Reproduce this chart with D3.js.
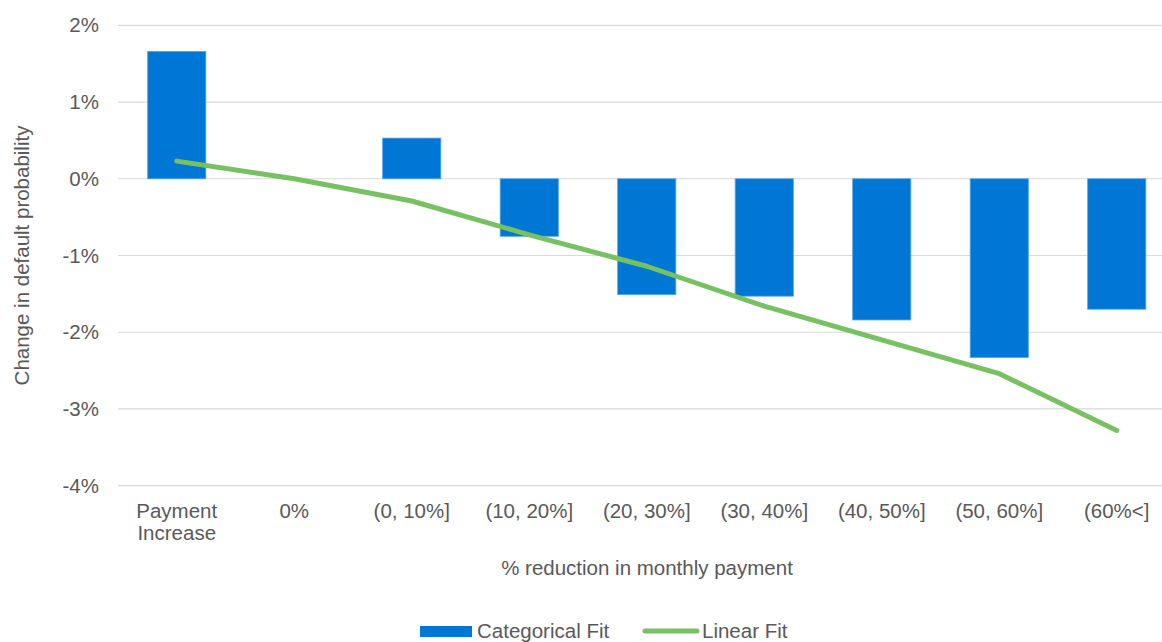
<!DOCTYPE html>
<html><head><meta charset="utf-8">
<script src="https://cdn.jsdelivr.net/npm/d3@7"></script>
<style>body{margin:0;background:#fff;}svg{display:block;font-family:"Liberation Sans",Arial,sans-serif;}</style>
</head><body>
<svg id="c" width="1162" height="642"></svg>
<script>
const categories = ["Payment\nIncrease","0%","(0, 10%]","(10, 20%]","(20, 30%]","(30, 40%]","(40, 50%]","(50, 60%]","(60%<]"];
const categoricalFit = [1.66, 0, 0.53, -0.75, -1.51, -1.53, -1.84, -2.33, -1.70];
const linearFit = [0.23, 0, -0.29, -0.73, -1.14, -1.66, -2.10, -2.54, -3.28];
const yTicks = [2, 1, 0, -1, -2, -3, -4];

(function () {
const svg = d3.select("#c");
const pLeft = 118, pRight = 1175.5, pTop = 25.3, pBottom = 485.7;
const x = d3.scaleBand().domain(categories).range([pLeft, pRight]).paddingInner(0.505).paddingOuter(0.2525);
const y = d3.scaleLinear().domain([-4, 2]).range([pBottom, pTop]);
const grey = "#595959";
const fs = "20.5px";

// gridlines
svg.append("g").selectAll("line").data(yTicks).join("line")
  .attr("x1", pLeft).attr("x2", pRight)
  .attr("y1", d => y(d)).attr("y2", d => y(d))
  .attr("stroke", "#d9d9d9").attr("stroke-width", 1.2);

// y axis labels
const yAxis = d3.axisLeft(y).tickValues(yTicks).tickFormat(d => d + "%").tickSize(0).tickPadding(0);
const ya = svg.append("g").attr("transform", `translate(${pLeft - 19},0)`).call(yAxis);
ya.select(".domain").remove();
ya.selectAll("text").attr("fill", grey).style("font-size", fs).style("font-family", "Liberation Sans, Arial, sans-serif");

// bars
svg.append("g").selectAll("rect").data(categoricalFit).join("rect")
  .attr("x", (d, i) => x(categories[i]))
  .attr("width", x.bandwidth())
  .attr("y", d => y(Math.max(0, d)))
  .attr("height", d => Math.abs(y(d) - y(0)))
  .attr("fill", "#0077d4").attr("stroke", "#4ea6ec").attr("stroke-width", 0.8);

// line
const line = d3.line().x((d, i) => x(categories[i]) + x.bandwidth() / 2).y(d => y(d));
svg.append("path").datum(linearFit).attr("d", line)
  .attr("fill", "none").attr("stroke", "#77c162").attr("stroke-width", 5)
  .attr("stroke-linecap", "round").attr("stroke-linejoin", "round");

// x axis labels
const xg = svg.append("g");
categories.forEach(c => {
  const t = xg.append("text").attr("x", x(c) + x.bandwidth() / 2).attr("y", 518)
    .attr("text-anchor", "middle").attr("fill", grey).style("font-size", fs);
  c.split("\n").forEach((s, j) => {
    t.append("tspan").attr("x", x(c) + x.bandwidth() / 2).attr("dy", j === 0 ? 0 : 22).text(s);
  });
});

// axis titles
svg.append("text").attr("x", 647).attr("y", 575).attr("text-anchor", "middle")
  .attr("fill", grey).style("font-size", fs).text("% reduction in monthly payment");
svg.append("text").attr("transform", `translate(29,${(pTop + pBottom) / 2}) rotate(-90)`)
  .attr("text-anchor", "middle").attr("fill", grey).style("font-size", fs)
  .text("Change in default probability");

// legend
svg.append("rect").attr("x", 420).attr("y", 626).attr("width", 52).attr("height", 11).attr("fill", "#0077d4");
svg.append("text").attr("x", 477).attr("y", 638).attr("fill", grey).style("font-size", fs).text("Categorical Fit");
svg.append("line").attr("x1", 645).attr("x2", 697).attr("y1", 631).attr("y2", 631)
  .attr("stroke", "#77c162").attr("stroke-width", 5).attr("stroke-linecap", "round");
svg.append("text").attr("x", 702).attr("y", 638).attr("fill", grey).style("font-size", fs).text("Linear Fit");
})();
</script>
</body></html>
